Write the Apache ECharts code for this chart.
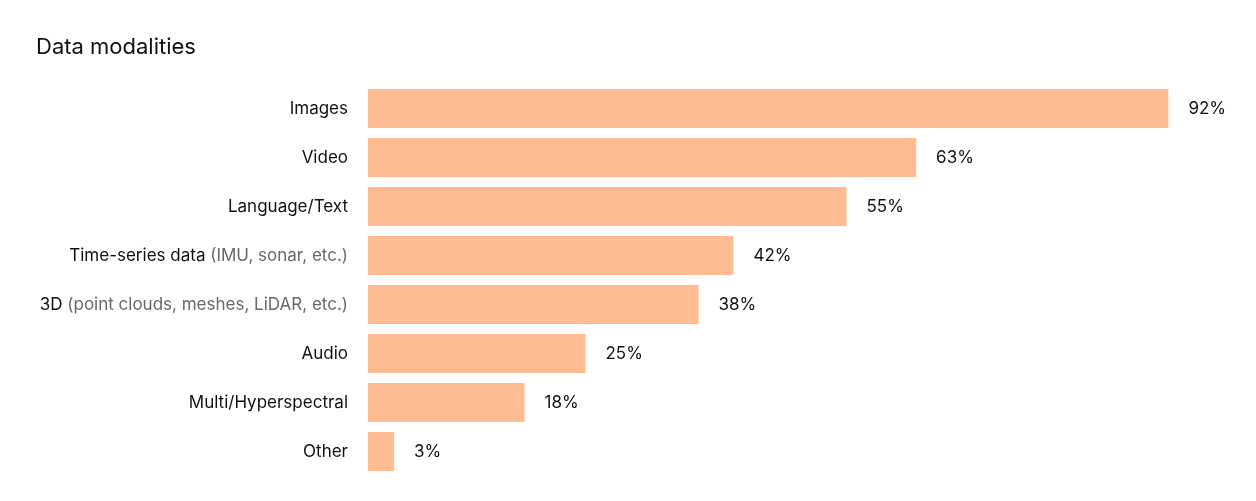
<!DOCTYPE html>
<html>
<head>
<meta charset="utf-8">
<script src="https://cdn.jsdelivr.net/npm/echarts@6/dist/echarts.min.js"></script>
<style>html,body{margin:0;background:#fff}#c{width:1256px;height:501px}</style>
</head>
<body>
<div id="c"></div>
<script>
var categories = ['Images', 'Video', 'Language/Text', 'Time-series data', '3D', 'Audio', 'Multi/Hyperspectral', 'Other']
var notes = ['', '', '', '(IMU, sonar, etc.)', '(point clouds, meshes, LiDAR, etc.)', '', '', '']
var values = [92, 63, 55, 42, 38, 25, 18, 3]

var chart = echarts.init(document.getElementById('c'))
chart.setOption({
    animation: false,
    title: {
        text: 'Data modalities',
        left: 31, top: 31,
        textStyle: {fontFamily: 'Inter', fontSize: 22, fontWeight: 'normal', color: '#111'}
    },
    grid: {left: 368, top: 84, width: 870, height: 392},
    xAxis: {type: 'value', min: 0, max: 100, show: false},
    yAxis: {
        type: 'category',
        data: categories,
        inverse: true,
        axisLine: {show: false},
        axisTick: {show: false},
        axisLabel: {
            margin: 20,
            fontFamily: 'Inter',
            fontSize: 17,
            color: '#111',
            formatter: function (v, i) {
                return notes[i] ? v + ' {g|' + notes[i] + '}' : v
            },
            rich: {g: {fontFamily: 'Inter', fontSize: 17, color: '#6e6660'}}
        }
    },
    series: [{
        type: 'bar',
        data: values,
        barWidth: 39,
        itemStyle: {color: '#ffbc92'},
        label: {
            show: true,
            position: 'right',
            distance: 20,
            formatter: '{c}%',
            fontFamily: 'Inter',
            fontSize: 17,
            color: '#111'
        }
    }]
})
</script>
</body>
</html>
